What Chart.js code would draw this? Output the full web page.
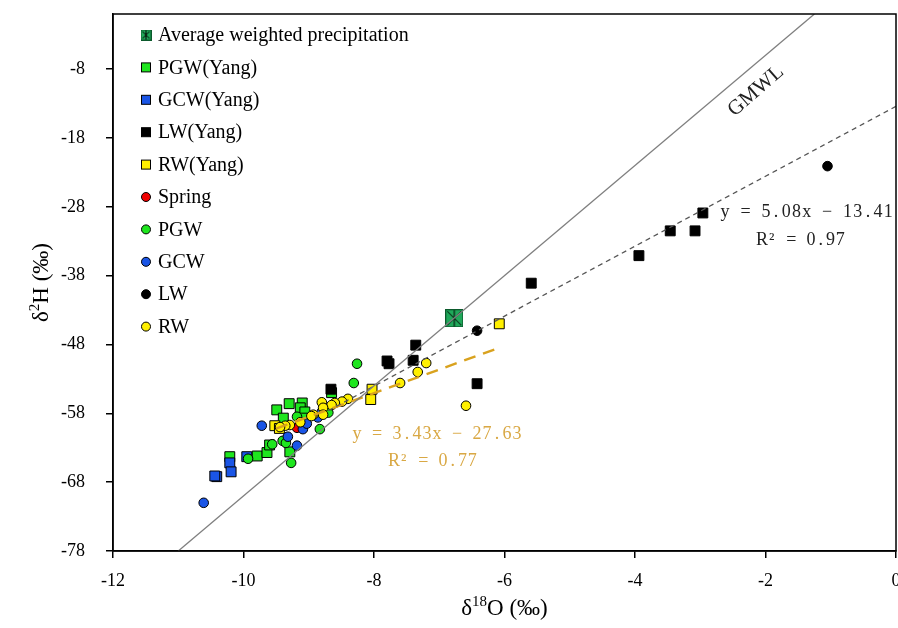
<!DOCTYPE html>
<html>
<head>
<meta charset="utf-8">
<script src="https://cdn.jsdelivr.net/npm/chart.js@4.4.0/dist/chart.umd.min.js"></script>
<style>
html, body { margin: 0; padding: 0; background: #fff; }
#wrap { width: 898px; height: 628px; }
</style>
</head>
<body>
<div id="wrap"><canvas id="myChart" width="898" height="628"></canvas></div>
<script>
// axis ticks
const xTicks = [-12, -10, -8, -6, -4, -2, 0];
const yTicks = [-78, -68, -58, -48, -38, -28, -18, -8];

// series, [d18O, d2H]
const avgPrecip = [[-6.77, -44.2]];
const pgwYang = [[-9.49, -57.5], [-9.30, -56.6], [-9.10, -56.5], [-9.13, -57.2], [-9.06, -57.8], [-9.39, -58.7],
    [-9.09, -58.7], [-8.65, -55.0], [-9.29, -63.6], [-9.79, -64.2], [-9.64, -63.7], [-9.60, -62.6], [-10.21, -64.3]];
const gcwYang = [[-10.21, -65.2], [-10.19, -66.5], [-10.41, -67.2], [-10.44, -67.1], [-9.95, -64.3]];
const lwYang = [[-2.96, -28.9], [-3.08, -31.5], [-3.46, -31.5], [-3.94, -35.1], [-5.59, -39.1], [-6.42, -53.7],
    [-7.36, -48.1], [-7.40, -50.3], [-7.80, -50.4], [-7.77, -50.8], [-8.66, -54.5]];
const rwYang = [[-6.08, -45.0], [-8.03, -54.5], [-8.05, -56.0], [-9.52, -59.8], [-9.45, -60.2]];
const spring = [[-9.18, -60.1]];
const pgw = [[-8.26, -50.8], [-8.31, -53.6], [-8.83, -60.3], [-8.70, -57.9], [-9.18, -58.5], [-9.40, -62.0],
    [-9.35, -62.3], [-9.56, -62.5], [-9.93, -64.6], [-9.27, -65.2]];
const gcw = [[-10.61, -71.0], [-9.72, -59.8], [-9.32, -61.4], [-9.18, -62.7], [-9.09, -60.3], [-9.03, -59.5],
    [-8.86, -58.6], [-8.80, -57.8]];
const lw = [[-1.05, -22.1], [-6.42, -46.0]];
const rw = [[-7.20, -50.7], [-7.33, -52.0], [-7.60, -53.6], [-6.59, -56.9], [-8.40, -55.9], [-8.49, -56.3],
    [-8.60, -56.5], [-8.65, -56.8], [-8.80, -56.4], [-8.78, -57.2], [-8.78, -58.2], [-8.93, -58.2],
    [-8.96, -58.4], [-9.13, -59.3], [-9.29, -59.7], [-9.36, -59.8], [-9.44, -60.0]];

// lines: slope, intercept, x from, x to
const gmwl = [8, 10, -11, -1.25];
const lwFit = [5.08, -13.41, -8.7, 0];
const rwFit = [3.43, -27.63, -9.5, -6.08];

const SERIF = '"Liberation Serif", "Times New Roman", serif';

function pts(arr) {
    return arr.map(p => ({x: p[0], y: p[1]}));
}
function fitLine(f) {
    return [{x: f[2], y: f[0] * f[2] + f[1]}, {x: f[3], y: f[0] * f[3] + f[1]}];
}

function avgMarker(size) {
    const c = document.createElement('canvas');
    c.width = size; c.height = size;
    const g = c.getContext('2d');
    g.fillStyle = '#1FA85A';
    g.fillRect(0, 0, size, size);
    g.strokeStyle = '#0b5a2c';
    g.lineWidth = 1;
    g.strokeRect(0.5, 0.5, size - 1, size - 1);
    g.strokeStyle = '#000';
    g.beginPath();
    g.moveTo(2, 2); g.lineTo(size - 2, size - 2);
    g.moveTo(size - 2, 2); g.lineTo(2, size - 2);
    g.moveTo(size / 2, 1); g.lineTo(size / 2, size - 1);
    g.stroke();
    return c;
}
const bigAvg = avgMarker(18);
const smallAvg = avgMarker(11);

const GREEN = '#1EE61E', BLUE = '#1A55E6', YELLOW = '#FFF000', RED = '#F00000';

function sq(label, data, color, order) {
    return {label: label, data: pts(data), pointStyle: 'rect', pointRadius: 7, pointHoverRadius: 7,
        backgroundColor: color, borderColor: '#000', borderWidth: 1, order: order};
}
function circ(label, data, color, order) {
    return {label: label, data: pts(data), pointStyle: 'circle', pointRadius: 4.8, pointHoverRadius: 4.8,
        backgroundColor: color, borderColor: '#000', borderWidth: 1, order: order};
}

const legendItems = [
    ['Average weighted precipitation', 'avg', null],
    ['PGW(Yang)', 'rect', GREEN],
    ['GCW(Yang)', 'rect', BLUE],
    ['LW(Yang)', 'rect', '#000'],
    ['RW(Yang)', 'rect', YELLOW],
    ['Spring', 'circle', RED],
    ['PGW', 'circle', GREEN],
    ['GCW', 'circle', BLUE],
    ['LW', 'circle', '#000'],
    ['RW', 'circle', YELLOW]
];

function monoText(ctx, text, x, y, cell) {
    for (let i = 0; i < text.length; i++) {
        ctx.fillText(text[i], x + cell * i + cell / 2, y);
    }
}

const extras = {
    id: 'extras',
    afterDatasetsDraw(chart) {
        const ctx = chart.ctx;
        const a = chart.chartArea;
        ctx.save();
        // frame
        ctx.strokeStyle = '#000';
        ctx.lineWidth = 1.5;
        ctx.strokeRect(a.left, a.top, a.right - a.left, a.bottom - a.top);

        // GMWL label
        ctx.fillStyle = '#222';
        ctx.font = '21px ' + SERIF;
        ctx.textAlign = 'center';
        ctx.textBaseline = 'middle';
        ctx.translate(756, 91);
        ctx.rotate(-41 * Math.PI / 180);
        ctx.fillText('GMWL', 0, 0);
        ctx.setTransform(1, 0, 0, 1, 0, 0);

        // fit equations
        ctx.font = '18px ' + SERIF;
        ctx.fillStyle = '#222';
        monoText(ctx, 'y = 5.08x \u2212 13.41', 720, 212, 10.2);
        monoText(ctx, 'R\u00B2 = 0.97', 757, 240, 9.8);
        ctx.fillStyle = '#D9A844';
        monoText(ctx, 'y = 3.43x \u2212 27.63', 352, 434, 10.0);
        monoText(ctx, 'R\u00B2 = 0.77', 389, 461, 9.8);

        // legend
        ctx.textAlign = 'left';
        ctx.font = '20px ' + SERIF;
        legendItems.forEach((it, i) => {
            const y = 35 + i * 32.4;
            const x = 146;
            if (it[1] === 'avg') {
                ctx.drawImage(smallAvg, x - 5.5, y - 5.5);
            } else if (it[1] === 'rect') {
                ctx.fillStyle = it[2];
                ctx.fillRect(x - 4.5, y - 4.5, 9, 9);
                ctx.strokeStyle = '#000';
                ctx.lineWidth = 1;
                ctx.strokeRect(x - 4.5, y - 4.5, 9, 9);
            } else {
                ctx.beginPath();
                ctx.arc(x, y, 4.5, 0, Math.PI * 2);
                ctx.fillStyle = it[2];
                ctx.fill();
                ctx.strokeStyle = '#000';
                ctx.lineWidth = 1;
                ctx.stroke();
            }
            ctx.fillStyle = '#000';
            ctx.fillText(it[0], 158, y + 1);
        });

        // axis titles
        ctx.fillStyle = '#000';
        ctx.textBaseline = 'alphabetic';
        // x title: δ18O (‰)
        const big = '23px ' + SERIF, small = '15px ' + SERIF;
        ctx.font = big;
        const w1 = ctx.measureText('\u03B4').width;
        const w3 = ctx.measureText('O (\u2030)').width;
        ctx.font = small;
        const w2 = ctx.measureText('18').width;
        let sx = (a.left + a.right) / 2 - (w1 + w2 + w3) / 2;
        const by = 615;
        ctx.font = big; ctx.fillText('\u03B4', sx, by);
        ctx.font = small; ctx.fillText('18', sx + w1, by - 9);
        ctx.font = big; ctx.fillText('O (\u2030)', sx + w1 + w2, by);

        // y title: δ2H (‰)
        ctx.translate(48, (a.top + a.bottom) / 2);
        ctx.rotate(-Math.PI / 2);
        ctx.font = big;
        const v1 = ctx.measureText('\u03B4').width;
        const v3 = ctx.measureText('H (\u2030)').width;
        ctx.font = small;
        const v2 = ctx.measureText('2').width;
        sx = -(v1 + v2 + v3) / 2;
        ctx.font = big; ctx.fillText('\u03B4', sx, 0);
        ctx.font = small; ctx.fillText('2', sx + v1, -9);
        ctx.font = big; ctx.fillText('H (\u2030)', sx + v1 + v2, 0);
        ctx.restore();
    }
};

const ctx = document.getElementById('myChart').getContext('2d');
const myChart = new Chart(ctx, {
    type: 'scatter',
    data: {
        datasets: [
            {label: 'GMWL', data: fitLine(gmwl), showLine: true, pointRadius: 0, borderColor: '#7f7f7f',
                borderWidth: 1.3, order: -3},
            {label: 'LW fit', data: fitLine(lwFit), showLine: true, pointRadius: 0, borderColor: '#555',
                borderWidth: 1.3, borderDash: [5, 4], order: -2},
            {label: 'RW fit', data: fitLine(rwFit), showLine: true, pointRadius: 0, borderColor: '#D9A21E',
                borderWidth: 2.4, borderDash: [12, 8], order: -1},
            {label: 'Average weighted precipitation', data: pts(avgPrecip), pointStyle: bigAvg, order: 9},
            sq('PGW(Yang)', pgwYang, GREEN, 8),
            sq('GCW(Yang)', gcwYang, BLUE, 7),
            sq('LW(Yang)', lwYang, '#000', 6),
            sq('RW(Yang)', rwYang, YELLOW, 5),
            circ('Spring', spring, RED, 4),
            circ('PGW', pgw, GREEN, 3),
            circ('GCW', gcw, BLUE, 2),
            circ('LW', lw, '#000', 1),
            circ('RW', rw, YELLOW, 0)
        ]
    },
    options: {
        responsive: false,
        animation: false,
        devicePixelRatio: 1,
        layout: {autoPadding: false, padding: {top: 14, right: 2, left: 0, bottom: 0}},
        plugins: {legend: {display: false}, tooltip: {enabled: false}},
        scales: {
            x: {
                type: 'linear',
                min: -12,
                max: 0,
                afterBuildTicks: s => { s.ticks = xTicks.map(v => ({value: v})); },
                afterFit: s => { s.height = 77; s.paddingLeft = 0; s.paddingRight = 0; },
                grid: {drawOnChartArea: false, drawTicks: true, tickLength: 7, color: '#000', lineWidth: 1.5},
                border: {display: true, color: '#000', width: 1.5},
                ticks: {color: '#000', font: {family: SERIF, size: 18}, padding: 12, maxRotation: 0, autoSkip: false}
            },
            y: {
                type: 'linear',
                min: -78,
                max: 0,
                afterBuildTicks: s => { s.ticks = yTicks.map(v => ({value: v})); },
                afterFit: s => { s.width = 113; s.paddingTop = 0; s.paddingBottom = 0; },
                grid: {drawOnChartArea: false, drawTicks: true, tickLength: 7, color: '#000', lineWidth: 1.5},
                border: {display: true, color: '#000', width: 1.5},
                ticks: {color: '#000', font: {family: SERIF, size: 18}, padding: 21, autoSkip: false}
            }
        }
    },
    plugins: [extras]
});
</script>
</body>
</html>
